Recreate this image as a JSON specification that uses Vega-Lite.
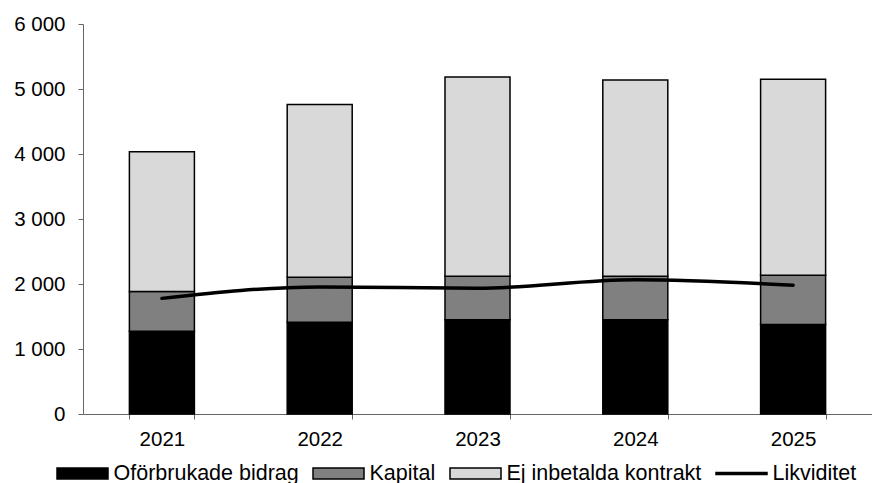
{
  "$schema": "https://vega.github.io/schema/vega-lite/v6.json",
  "autosize": {"type": "none"},
  "padding": {"left": 83, "top": 24, "right": 0, "bottom": 69},
  "width": 789,
  "height": 390,
  "background": "white",
  "config": {
    "view": {"stroke": null},
    "font": "Liberation Sans",
    "axis": {"labelFont": "Liberation Sans", "labelFontSize": 20.5, "labelColor": "black", "domainColor": "#666", "tickColor": "#666", "domainWidth": 1, "tickWidth": 1, "grid": false, "title": null}
  },
  "datasets": {
    "bars": [
      {"year": "2021", "serie": "Oförbrukade bidrag", "ord": 1, "value": 1274},
      {"year": "2021", "serie": "Kapital", "ord": 2, "value": 611},
      {"year": "2021", "serie": "Ej inbetalda kontrakt", "ord": 3, "value": 2150},
      {"year": "2022", "serie": "Oförbrukade bidrag", "ord": 1, "value": 1412},
      {"year": "2022", "serie": "Kapital", "ord": 2, "value": 693},
      {"year": "2022", "serie": "Ej inbetalda kontrakt", "ord": 3, "value": 2655},
      {"year": "2023", "serie": "Oförbrukade bidrag", "ord": 1, "value": 1449},
      {"year": "2023", "serie": "Kapital", "ord": 2, "value": 671},
      {"year": "2023", "serie": "Ej inbetalda kontrakt", "ord": 3, "value": 3065},
      {"year": "2024", "serie": "Oförbrukade bidrag", "ord": 1, "value": 1449},
      {"year": "2024", "serie": "Kapital", "ord": 2, "value": 671},
      {"year": "2024", "serie": "Ej inbetalda kontrakt", "ord": 3, "value": 3020},
      {"year": "2025", "serie": "Oförbrukade bidrag", "ord": 1, "value": 1377},
      {"year": "2025", "serie": "Kapital", "ord": 2, "value": 758},
      {"year": "2025", "serie": "Ej inbetalda kontrakt", "ord": 3, "value": 3015}
    ],
    "line": [
      {"year": "2021", "serie": "Likviditet", "value": 1779},
      {"year": "2022", "serie": "Likviditet", "value": 1955},
      {"year": "2023", "serie": "Likviditet", "value": 1935},
      {"year": "2024", "serie": "Likviditet", "value": 2065},
      {"year": "2025", "serie": "Likviditet", "value": 1982}
    ]
  },
  "encoding": {
    "x": {
      "field": "year", "type": "nominal",
      "scale": {"paddingInner": 0.588, "paddingOuter": 0.294},
      "axis": {"labelAngle": 0, "tickBand": "extent", "tickSize": 5, "labelPadding": 10}
    }
  },
  "layer": [
    {
      "data": {"name": "bars"},
      "mark": {"type": "bar", "stroke": "black", "strokeWidth": 1.5},
      "encoding": {
        "y": {
          "field": "value", "type": "quantitative", "stack": "zero",
          "scale": {"domain": [0, 6000], "nice": false},
          "axis": {"values": [0, 1000, 2000, 3000, 4000, 5000, 6000], "tickSize": 5, "labelPadding": 13, "labelExpr": "replace(format(datum.value, ','), ',', ' ')"}
        },
        "order": {"field": "ord", "type": "quantitative"},
        "color": {
          "field": "serie", "type": "nominal",
          "scale": {"domain": ["Oförbrukade bidrag", "Kapital", "Ej inbetalda kontrakt", "Likviditet"], "range": ["#000000", "#808080", "#d9d9d9", "#000000"]},
          "legend": {
            "title": null,
            "orient": "none",
            "direction": "horizontal",
            "legendX": -27,
            "legendY": 423,
            "symbolType": "M-1,-0.22H1V0.22H-1Z",
            "symbolSize": 2601,
            "symbolStrokeColor": "black",
            "symbolStrokeWidth": 1.5,
            "symbolOpacity": 1,
            "labelFont": "Liberation Sans",
            "labelFontSize": 21.5,
            "labelColor": "black",
            "labelOffset": 4.5,
            "columnPadding": 11,
            "labelLimit": 400,
            "encode": {
              "symbols": {
                "update": {
                  "size": {"value": 2601},
                  "strokeWidth": {"value": 1.5},
                  "shape": {"signal": "datum.value === 'Likviditet' ? 'M-1,-0.04H1V0.04H-1Z' : 'M-1,-0.22H1V0.22H-1Z'"},
                  "fill": {"signal": "datum.value === 'Oförbrukade bidrag' ? '#000000' : datum.value === 'Kapital' ? '#808080' : datum.value === 'Ej inbetalda kontrakt' ? '#d9d9d9' : '#000000'"},
                  "stroke": {"value": "black"},
                  "opacity": {"value": 1}
                }
              }
            }
          }
        }
      }
    },
    {
      "data": {"name": "line"},
      "mark": {"type": "line", "interpolate": "monotone", "strokeWidth": 3.5, "strokeCap": "round", "color": "black"},
      "encoding": {
        "y": {"field": "value", "type": "quantitative"}
      }
    }
  ]
}
